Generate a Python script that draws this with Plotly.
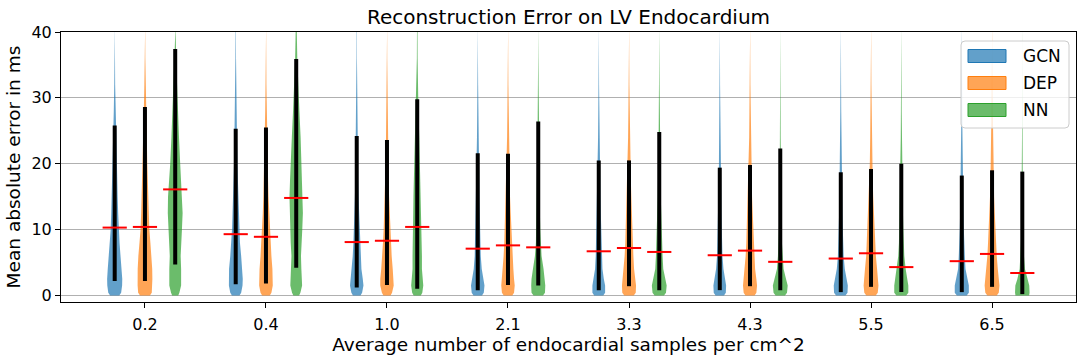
import plotly.graph_objects as go

# ---------------- data ----------------
CATEGORIES = ["0.2", "0.4", "1.0", "2.1", "3.3", "4.3", "5.5", "6.5"]
SERIES = ["GCN", "DEP", "NN"]

# y-levels (ms) at which the violin density profiles were read
Y_GRID = [0, 0.4, 1.5, 2.5, 4, 6, 8, 10, 12.5, 15, 17.5, 20, 24, 28, 32, 36, 41]

# relative violin widths (max = 1) at Y_GRID, one row per category
GCN_DENSITY = [
    [0.60, 0.85, 0.98, 1.00, 0.92, 0.77, 0.64, 0.53, 0.46, 0.39, 0.33, 0.27, 0.20, 0.12, 0.06, 0.04, 0.02],
    [0.50, 0.72, 0.90, 0.93, 0.88, 0.72, 0.56, 0.49, 0.42, 0.34, 0.28, 0.22, 0.17, 0.10, 0.06, 0.04, 0.02],
    [0.50, 0.71, 0.89, 0.80, 0.62, 0.53, 0.44, 0.36, 0.31, 0.24, 0.19, 0.16, 0.12, 0.08, 0.05, 0.03, 0.02],
    [0.56, 0.80, 0.89, 0.71, 0.53, 0.40, 0.36, 0.31, 0.27, 0.22, 0.18, 0.14, 0.10, 0.07, 0.05, 0.03, 0.02],
    [0.60, 0.84, 0.84, 0.67, 0.49, 0.40, 0.36, 0.31, 0.27, 0.22, 0.17, 0.13, 0.09, 0.06, 0.04, 0.03, 0.02],
    [0.56, 0.80, 0.84, 0.67, 0.49, 0.36, 0.31, 0.27, 0.22, 0.18, 0.14, 0.11, 0.08, 0.06, 0.04, 0.03, 0.02],
    [0.62, 0.89, 0.93, 0.78, 0.53, 0.38, 0.31, 0.27, 0.22, 0.18, 0.14, 0.11, 0.08, 0.06, 0.04, 0.03, 0.02],
    [0.65, 0.93, 0.93, 0.76, 0.49, 0.40, 0.31, 0.27, 0.22, 0.18, 0.14, 0.10, 0.07, 0.05, 0.04, 0.03, 0.02],
]
DEP_DENSITY = [
    [0.65, 0.90, 0.97, 0.98, 0.96, 0.87, 0.72, 0.58, 0.50, 0.43, 0.37, 0.31, 0.24, 0.15, 0.08, 0.05, 0.03],
    [0.50, 0.72, 0.90, 0.91, 0.85, 0.72, 0.60, 0.51, 0.42, 0.34, 0.28, 0.22, 0.17, 0.10, 0.06, 0.04, 0.02],
    [0.47, 0.67, 0.89, 0.89, 0.76, 0.62, 0.53, 0.44, 0.36, 0.28, 0.22, 0.18, 0.13, 0.08, 0.05, 0.03, 0.02],
    [0.56, 0.80, 0.89, 0.80, 0.71, 0.58, 0.49, 0.44, 0.36, 0.27, 0.22, 0.17, 0.12, 0.08, 0.05, 0.03, 0.02],
    [0.62, 0.89, 0.93, 0.84, 0.67, 0.58, 0.49, 0.44, 0.36, 0.31, 0.24, 0.18, 0.12, 0.08, 0.05, 0.03, 0.02],
    [0.60, 0.84, 0.93, 0.84, 0.67, 0.58, 0.49, 0.44, 0.36, 0.27, 0.21, 0.16, 0.11, 0.08, 0.05, 0.03, 0.02],
    [0.62, 0.89, 0.98, 0.93, 0.80, 0.64, 0.56, 0.47, 0.38, 0.29, 0.22, 0.16, 0.11, 0.08, 0.05, 0.03, 0.02],
    [0.62, 0.89, 0.98, 0.89, 0.76, 0.62, 0.53, 0.44, 0.36, 0.27, 0.21, 0.16, 0.11, 0.08, 0.05, 0.03, 0.02],
]
NN_DENSITY = [
    [0.40, 0.55, 0.78, 0.80, 0.78, 0.72, 0.82, 0.89, 0.98, 0.95, 0.78, 0.66, 0.50, 0.38, 0.22, 0.12, 0.05],
    [0.38, 0.55, 0.78, 0.76, 0.68, 0.63, 0.73, 0.80, 0.88, 0.89, 0.82, 0.70, 0.58, 0.42, 0.24, 0.14, 0.06],
    [0.47, 0.67, 0.80, 0.71, 0.62, 0.62, 0.62, 0.58, 0.53, 0.50, 0.44, 0.36, 0.27, 0.16, 0.09, 0.05, 0.03],
    [0.62, 0.89, 0.93, 0.89, 0.70, 0.44, 0.31, 0.27, 0.22, 0.18, 0.15, 0.12, 0.09, 0.07, 0.05, 0.03, 0.02],
    [0.62, 0.89, 0.98, 0.80, 0.53, 0.44, 0.36, 0.31, 0.27, 0.20, 0.15, 0.11, 0.08, 0.06, 0.04, 0.03, 0.02],
    [0.62, 0.89, 0.98, 0.76, 0.44, 0.31, 0.22, 0.18, 0.13, 0.09, 0.07, 0.06, 0.05, 0.04, 0.03, 0.02, 0.02],
    [0.65, 0.93, 0.93, 0.82, 0.58, 0.40, 0.31, 0.27, 0.22, 0.18, 0.14, 0.10, 0.07, 0.05, 0.04, 0.03, 0.02],
    [0.90, 0.96, 0.92, 0.65, 0.35, 0.22, 0.18, 0.13, 0.10, 0.08, 0.06, 0.05, 0.04, 0.03, 0.03, 0.02, 0.02],
]

# black range bars (low / high) and red mean markers, in ms
GCN_LOW = [2.2, 1.7, 1.2, 0.8, 0.8, 0.8, 0.5, 0.5]
GCN_HIGH = [25.8, 25.3, 24.2, 21.6, 20.5, 19.4, 18.7, 18.2]
GCN_MEAN = [10.3, 9.3, 8.1, 7.1, 6.7, 6.1, 5.6, 5.2]

DEP_LOW = [2.2, 1.8, 1.6, 1.6, 1.4, 1.4, 1.3, 1.3]
DEP_HIGH = [28.6, 25.5, 23.6, 21.5, 20.5, 19.8, 19.2, 19.0]
DEP_MEAN = [10.4, 8.9, 8.3, 7.6, 7.2, 6.8, 6.4, 6.3]

NN_LOW = [4.7, 4.2, 1.0, 1.5, 0.8, 0.8, 0.5, 0.2]
NN_HIGH = [37.4, 35.9, 29.8, 26.4, 24.8, 22.3, 20.0, 18.8]
NN_MEAN = [16.1, 14.8, 10.4, 7.3, 6.6, 5.1, 4.3, 3.4]

DENSITIES = [GCN_DENSITY, DEP_DENSITY, NN_DENSITY]
LOWS = [GCN_LOW, DEP_LOW, NN_LOW]
HIGHS = [GCN_HIGH, DEP_HIGH, NN_HIGH]
MEANS = [GCN_MEAN, DEP_MEAN, NN_MEAN]

# ---------------- style ----------------
LINE_COLORS = ["rgb(31,119,180)", "rgb(255,127,14)", "rgb(44,160,44)"]
FILL_COLORS = ["rgba(31,119,180,0.7)", "rgba(255,127,14,0.7)", "rgba(44,160,44,0.7)"]
FONT = "DejaVu Sans"
GROUP_STEP = 4
OFFSETS = [-1, 0, 1]
HALF_WIDTH = 0.25
MEAN_HALF = 0.4

W, H = 1084, 359
PL, PR, PT, PB = 61, 1076, 32, 302

fig = go.Figure()

# violin bodies
for s, name in enumerate(SERIES):
    for g, cat in enumerate(CATEGORIES):
        pos = g * GROUP_STEP + OFFSETS[s]
        dens = DENSITIES[s][g]
        xs = [pos - d * HALF_WIDTH for d in dens] + [pos + d * HALF_WIDTH for d in reversed(dens)]
        ys = list(Y_GRID) + list(reversed(Y_GRID))
        fig.add_trace(go.Scatter(
            x=xs, y=ys, mode="lines", fill="toself",
            fillcolor=FILL_COLORS[s], line=dict(width=0, color=FILL_COLORS[s]),
            name=name, showlegend=False, hoverinfo="skip",
        ))

# black range bars
for s, name in enumerate(SERIES):
    bx, by = [], []
    for g in range(len(CATEGORIES)):
        pos = g * GROUP_STEP + OFFSETS[s]
        bx += [pos, pos, None]
        by += [LOWS[s][g], HIGHS[s][g], None]
    fig.add_trace(go.Scatter(x=bx, y=by, mode="lines",
                             line=dict(color="black", width=4),
                             showlegend=False, hoverinfo="skip"))

# red mean markers
for s, name in enumerate(SERIES):
    mx, my = [], []
    for g in range(len(CATEGORIES)):
        pos = g * GROUP_STEP + OFFSETS[s]
        mx += [pos - MEAN_HALF, pos + MEAN_HALF, None]
        my += [MEANS[s][g], MEANS[s][g], None]
    fig.add_trace(go.Scatter(x=mx, y=my, mode="lines",
                             line=dict(color="rgb(255,0,0)", width=2),
                             showlegend=False, hoverinfo="skip"))

# ---------------- custom legend (matplotlib-like) ----------------
def pxx(x):
    return (x - PL) / (PR - PL)

def pyy(y):
    return (PB - y) / (PB - PT)

shapes = []
lx0, lx1, ly0, ly1, r = 961, 1069, 41, 128, 4
path = (f"M {pxx(lx0 + r)} {pyy(ly0)} L {pxx(lx1 - r)} {pyy(ly0)} "
        f"Q {pxx(lx1)} {pyy(ly0)} {pxx(lx1)} {pyy(ly0 + r)} "
        f"L {pxx(lx1)} {pyy(ly1 - r)} Q {pxx(lx1)} {pyy(ly1)} {pxx(lx1 - r)} {pyy(ly1)} "
        f"L {pxx(lx0 + r)} {pyy(ly1)} Q {pxx(lx0)} {pyy(ly1)} {pxx(lx0)} {pyy(ly1 - r)} "
        f"L {pxx(lx0)} {pyy(ly0 + r)} Q {pxx(lx0)} {pyy(ly0)} {pxx(lx0 + r)} {pyy(ly0)} Z")
shapes.append(dict(type="path", xref="paper", yref="paper", path=path,
                   fillcolor="rgba(255,255,255,0.8)", line=dict(color="#cccccc", width=1),
                   layer="above"))
annotations = []
row_y = [56, 83, 110]
for s, name in enumerate(SERIES):
    cy = row_y[s]
    shapes.append(dict(type="rect", xref="paper", yref="paper",
                       x0=pxx(968), x1=pxx(1006), y0=pyy(cy + 6.5), y1=pyy(cy - 6.5),
                       fillcolor=FILL_COLORS[s], line=dict(color=LINE_COLORS[s], width=1),
                       layer="above"))
    annotations.append(dict(xref="paper", yref="paper", x=pxx(1021), y=pyy(cy),
                            xanchor="left", yanchor="middle", showarrow=False,
                            text=name, font=dict(family=FONT, size=17, color="black")))

fig.update_layout(
    width=W, height=H,
    margin=dict(l=PL, r=W - PR, t=PT, b=H - PB, autoexpand=False),
    paper_bgcolor="white", plot_bgcolor="white",
    font=dict(family=FONT, size=16, color="black"),
    title=dict(text="Reconstruction Error on LV Endocardium",
               x=(PL + PR) / 2 / W, xanchor="center",
               y=1 - 17 / H, yanchor="middle",
               font=dict(family=FONT, size=20, color="black")),
    showlegend=False,
    shapes=shapes,
    annotations=annotations,
)

fig.update_xaxes(
    range=[-2.775, 30.775],
    tickmode="array",
    tickvals=[g * GROUP_STEP for g in range(len(CATEGORIES))],
    ticktext=CATEGORIES,
    ticks="outside", ticklen=5, tickwidth=1, tickcolor="black",
    ticklabelstandoff=3,
    showgrid=False, zeroline=False,
    showline=True, linecolor="black", linewidth=1, mirror=True,
    tickfont=dict(family=FONT, size=16),
    title=dict(text="Average number of endocardial samples per cm^2",
               font=dict(family=FONT, size=18.5), standoff=3),
)
fig.update_yaxes(
    range=[-1, 40],
    tickmode="array", tickvals=[0, 10, 20, 30, 40],
    ticks="outside", ticklen=5, tickwidth=1, tickcolor="black",
    showgrid=True, gridcolor="#b0b0b0", gridwidth=1,
    zeroline=False,
    showline=True, linecolor="black", linewidth=1, mirror=True,
    tickfont=dict(family=FONT, size=16),
    title=dict(text="Mean absolute error in ms",
               font=dict(family=FONT, size=18.5), standoff=5),
)

fig.write_html("out.html", config={"displayModeBar": False},
               post_script="document.body.style.margin='0';")
